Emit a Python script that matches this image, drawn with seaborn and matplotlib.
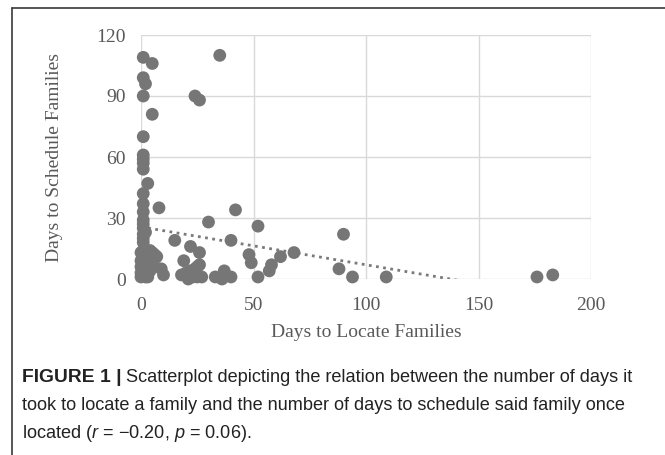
import numpy as np
import pandas as pd
import matplotlib
matplotlib.use("Agg")
import matplotlib.pyplot as plt
import seaborn as sns

# days to locate (x) and days to schedule (y)
days_locate = [1, 5, 1, 2, 1, 5, 1, 1, 1, 1, 1, 3, 1, 1, 1, 1, 1, 1, 2, 1, 1, 1, 8,
               0, 1, 0, 1, 2, 0, 1, 1, 0, 1, 2, 1, 0, 1, 2, 2, 3, 3, 3, 4, 5, 6, 4, 5, 4, 3, 2, 6, 7, 4,
               9, 10, 15, 22, 26, 19, 18, 20, 21, 22, 23, 24, 25, 26, 24, 25, 27, 23,
               30, 42, 40, 33, 36, 37, 40, 52, 48, 49, 52, 57, 58, 62, 68, 88, 90, 94, 109,
               176, 183, 24, 26, 35]
days_schedule = [109, 106, 99, 96, 90, 81, 70, 61, 59, 57, 54, 47, 42, 37, 33, 29, 27, 25, 23, 22, 20, 18, 35,
                 1, 2, 3, 4, 5, 6, 7, 8, 9, 10, 11, 12, 13, 14, 3, 1, 2, 6, 9, 12, 13, 12, 10, 8, 4, 1, 8, 10, 11, 14,
                 5, 2, 19, 16, 13, 9, 2, 3, 0, 4, 4, 5, 6, 7, 2, 1, 1, 1,
                 28, 34, 19, 1, 0, 4, 1, 26, 12, 8, 1, 4, 7, 11, 13, 5, 22, 1, 1,
                 1, 2, 90, 88, 110]

x_ticks = [0, 50, 100, 150, 200]
y_ticks = [0, 30, 60, 90, 120]
x_label = "Days to Locate Families"
y_label = "Days to Schedule Families"

df = pd.DataFrame({"locate": days_locate, "schedule": days_schedule})

sns.set_style("white")
plt.rcParams["font.family"] = ["Liberation Serif", "DejaVu Serif"]
plt.rcParams["mathtext.fontset"] = "custom"
plt.rcParams["mathtext.it"] = "Liberation Sans:italic"
plt.rcParams["mathtext.rm"] = "Liberation Sans"

fig = plt.figure(figsize=(6.65, 4.55), dpi=100)
ax = fig.add_axes([141 / 665, 1 - 279 / 455, 450 / 665, 244 / 455])

gray_txt = "#595959"
sns.scatterplot(data=df, x="locate", y="schedule", ax=ax, s=85, color="#767676",
                edgecolor="none", zorder=3, clip_on=False)

# linear trendline (Excel style), over the data range, clipped at y=0
slope, intercept = np.polyfit(df["locate"], df["schedule"], 1)
xs = np.array([df["locate"].min(), df["locate"].max()])
ax.plot(xs, intercept + slope * xs, linestyle=(0, (1, 1.6)), color="#7a7a7a", lw=2, zorder=2)

ax.set_xlim(0, 200)
ax.set_ylim(0, 120)
ax.set_xticks(x_ticks)
ax.set_yticks(y_ticks)
ax.grid(True, color="#d9d9d9", lw=1)
ax.set_axisbelow(True)
for sp in ax.spines.values():
    sp.set_visible(False)
ax.tick_params(length=0, labelsize=14, colors=gray_txt)
ax.tick_params(axis="x", pad=13)
ax.tick_params(axis="y", pad=11)
ax.set_xlabel(x_label, fontsize=14, color=gray_txt, labelpad=7)
ax.set_ylabel(y_label, fontsize=14, color=gray_txt, labelpad=24)

# outer frame lines (top and left)
fig.add_artist(plt.Line2D([12 / 665, 1], [1 - 8 / 455, 1 - 8 / 455], color="#3a3a3a", lw=1.2))
fig.add_artist(plt.Line2D([12 / 665, 12 / 665], [0, 1 - 8 / 455], color="#3a3a3a", lw=1.2))

# caption
cap_font = ["Liberation Sans", "DejaVu Sans"]
cap_size = 13.1
t1 = fig.text(22 / 665, 1 - 378 / 455, "FIGURE 1 |", fontsize=13.9, fontweight="bold",
              family=cap_font, va="center", color="#222222")
fig.canvas.draw()
bb = t1.get_window_extent()
fig.text((bb.x1 + 4) / 665, 1 - 378 / 455,
         "Scatterplot depicting the relation between the number of days it",
         fontsize=cap_size, family=cap_font, va="center", color="#222222")
fig.text(22 / 665, 1 - 406 / 455,
         "took to locate a family and the number of days to schedule said family once",
         fontsize=cap_size, family=cap_font, va="center", color="#222222")
fig.text(22 / 665, 1 - 433 / 455,
         "located ($r$ = \u22120.20, $p$ = 0.06).",
         fontsize=cap_size, family=cap_font, va="center", color="#222222")

fig.savefig("out.png", dpi=100)
